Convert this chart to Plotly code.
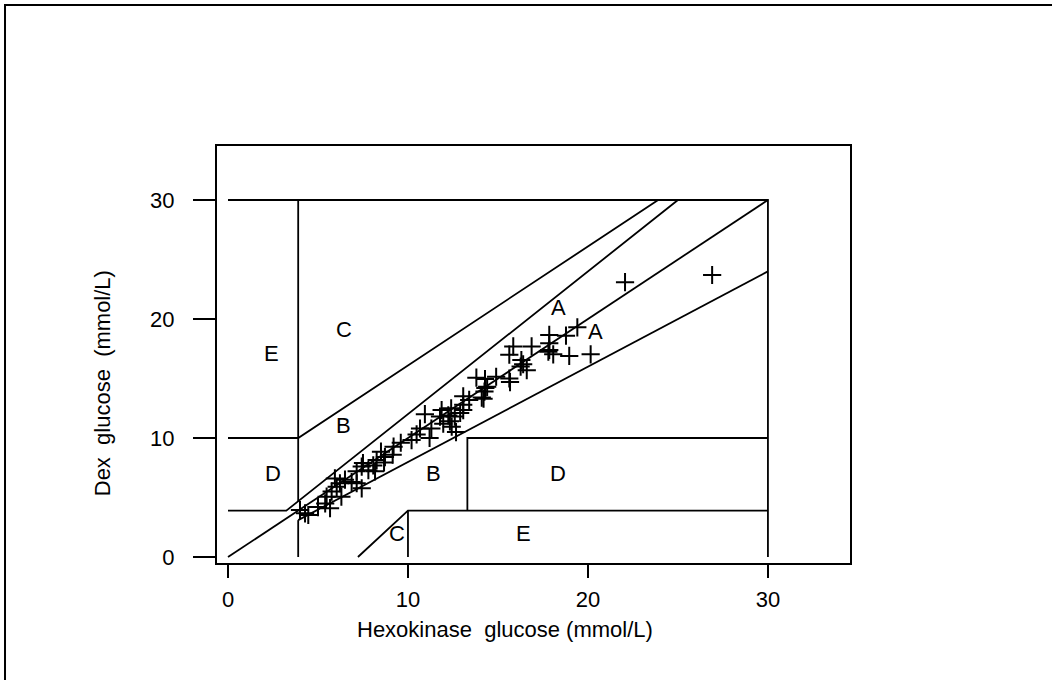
import plotly.graph_objects as go

# ---- data (mmol/L) ----
hexokinase = [4.0, 4.28, 4.46, 5.0, 5.4, 5.67, 5.48, 5.76, 6.04, 5.94, 6.22, 6.3, 6.5, 6.87,
              7.15, 7.43, 7.15, 7.43, 7.5, 7.8, 8.17, 8.07, 8.26, 8.5, 8.72, 8.67, 9.15, 9.2,
              9.6, 10.2, 10.48, 10.67, 11.2, 11.3, 10.94, 11.87, 12.4, 13.07, 11.78, 12.24,
              12.6, 12.9, 11.96, 12.33, 12.43, 12.67, 13.07, 13.07, 13.4, 14.2, 14.3, 14.1,
              14.25, 14.4, 13.8, 14.28, 14.9, 15.63, 15.67, 16.6, 16.26, 16.4, 16.3,
              15.85, 16.87, 15.63, 17.85, 17.8, 18.07, 17.85, 17.85, 18.78, 19.41, 18.96,
              20.15, 22.06, 26.9]
dex = [3.95, 3.67, 3.53, 4.2, 4.5, 4.1, 5.07, 5.5, 5.9, 6.6, 6.2, 5.07, 6.5, 6.3,
       6.2, 5.77, 7.2, 7.6, 7.9, 7.3, 7.2, 7.7, 8.15, 8.85, 8.4, 7.95, 8.6, 9.27,
       9.6, 9.83, 10.3, 10.8, 10.0, 10.8, 12.0, 12.35, 12.5, 12.35, 11.8, 11.9,
       11.8, 12.1, 11.2, 11.4, 10.95, 10.5, 12.8, 13.5, 13.2, 13.3, 14.2, 13.4,
       13.9, 14.3, 15.07, 14.96, 15.15, 15.0, 14.7, 15.7, 16.0, 16.2, 16.55,
       17.7, 17.7, 17.0, 17.96, 17.25, 17.03, 17.4, 18.66, 18.6, 19.3, 16.9,
       17.03, 23.1, 23.7]

# Clarke error grid boundaries (segments, mmol/L)
grid_segments = [
    [(0, 0), (30, 30)],                       # identity
    [(0, 3.9), (3.24, 3.9), (25, 30)],        # upper A
    [(3.9, 3.1), (30, 24)],                   # lower A
    [(3.9, 0), (3.9, 3.1)],
    [(3.9, 4.67), (3.9, 30)],
    [(0, 10), (3.9, 10), (23.9, 30)],         # upper B/C
    [(0, 30), (30, 30), (30, 0)],             # top / right
    [(7.22, 0), (10, 3.9), (30, 3.9)],        # lower C / E
    [(10, 0), (10, 3.9)],
    [(13.3, 3.9), (13.3, 10), (30, 10)],      # lower D
]

zone_labels = ["E", "C", "B", "D", "B", "D", "C", "E", "A", "A"]
zone_x = [2.44, 6.44, 6.4, 2.48, 11.4, 18.35, 9.37, 16.4, 18.35, 20.44]
zone_y = [17.1, 19.1, 11.03, 7.03, 7.03, 7.03, 1.99, 1.99, 20.95, 18.93]

x_ticks = [0, 10, 20, 30]
y_ticks = [0, 10, 20, 30]

FONT = "Liberation Sans, Arial, sans-serif"
FS = 22

gx, gy = [], []
for seg in grid_segments:
    for (a, b) in seg:
        gx.append(a)
        gy.append(b)
    gx.append(None)
    gy.append(None)

fig = go.Figure()
fig.add_trace(go.Scatter(x=gx, y=gy, mode="lines",
                         line=dict(color="black", width=1.8),
                         hoverinfo="skip", showlegend=False))
fig.add_trace(go.Scatter(x=hexokinase, y=dex, mode="markers",
                         marker=dict(symbol="cross-thin", size=13,
                                     line=dict(color="black", width=2)),
                         showlegend=False))

for t, xx, yy in zip(zone_labels, zone_x, zone_y):
    fig.add_annotation(x=xx, y=yy, text=t, showarrow=False,
                       font=dict(family=FONT, size=FS, color="black"),
                       xanchor="center", yanchor="middle")

# axis titles
fig.add_annotation(x=15.4, y=-0.16, xref="x", yref="paper",
                   text="Hexokinase  glucose (mmol/L)", showarrow=False,
                   font=dict(family=FONT, size=FS, color="black"),
                   xanchor="center", yanchor="middle")
fig.add_annotation(x=-0.1817, y=14.6, xref="paper", yref="y",
                   text="Dex  glucose  (mmol/L)", showarrow=False, textangle=-90,
                   font=dict(family=FONT, size=FS, color="black"),
                   xanchor="center", yanchor="middle")

# outer frame
fig.add_shape(type="rect", xref="paper", yref="paper",
              x0=-0.3349, x1=1.34, y0=-0.31, y1=1.3381,
              line=dict(color="black", width=2), fillcolor="rgba(0,0,0,0)")

fig.update_xaxes(range=[-0.611, 34.56], tickvals=x_ticks, ticktext=[str(v) for v in x_ticks],
                 showgrid=False, zeroline=False, showline=True, mirror=True,
                 linecolor="black", linewidth=2, ticks="outside", ticklen=13,
                 tickwidth=1.5, tickcolor="black", ticklabelstandoff=3,
                 tickfont=dict(family=FONT, size=FS, color="black"))
fig.update_yaxes(range=[-0.504, 34.54], tickvals=y_ticks, ticktext=[str(v) for v in y_ticks],
                 showgrid=False, zeroline=False, showline=True, mirror=True,
                 linecolor="black", linewidth=2, ticks="outside", ticklen=22,
                 tickwidth=1.5, tickcolor="black", ticklabelstandoff=14,
                 tickfont=dict(family=FONT, size=FS, color="black"))

fig.update_layout(width=1052, height=680,
                  margin=dict(l=217, r=202, t=146, b=117),
                  plot_bgcolor="white", paper_bgcolor="white",
                  font=dict(family=FONT, color="black"))

fig.write_html("out.html", config={"displayModeBar": False},
               post_script="document.body.style.margin='0px';document.body.style.overflow='hidden';")
